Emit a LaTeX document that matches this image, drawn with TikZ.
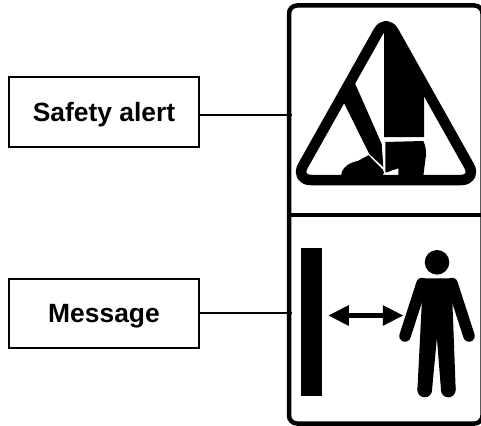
\documentclass[tikz,border=0pt]{standalone}
\usepackage{fontspec}
\setmainfont{Liberation Sans}
\usetikzlibrary{arrows.meta,positioning}

\begin{document}
\begin{tikzpicture}[
  x=1pt, y=-1pt,
  font=\fontsize{26.4}{30}\selectfont\bfseries,
  >={Triangle[length=20.5pt,width=19.5pt]},
  labelbox/.style={draw, line width=2pt, minimum width=190pt, minimum height=69pt, inner sep=0pt, text height=19pt, text depth=0pt},
  link/.style={line width=2.2pt},
  frame/.style={line width=4.5pt, rounded corners=8pt},
  limb/.style={line width=11.5pt, line cap=round}
]
\useasboundingbox (0,0) rectangle (481,425);
\clip (0,0) rectangle (481,425);
\node[labelbox] (alert) at (104,112) {Safety alert};
\node[labelbox, below=130pt of alert] (msg) {Message};
\coordinate (alertend) at (291.5,115.3);
\coordinate (msgend) at (291.5,313.2);
\draw[link] (alert.east |- alertend) -- (alertend);
\draw[link] (msg.east |- msgend) -- (msgend);
% panel
\draw[frame] (289,5.5) rectangle (482.5,423.5);
\draw[line width=4.5pt] (289,215) -- (481,215);
% triangle
\draw[line width=10.5pt, line join=round, rounded corners=16pt] (386,18) -- (477,180) -- (295,180) -- cycle;
\fill (384,28) -- (394,28) -- (424,90) -- (424,137) -- (384,137) -- cycle;
\fill (355,83.3) -- (381.7,144) -- (383.3,167) -- (369.3,154) -- (367.3,150) -- (343.3,101.7) -- (346.7,83) -- cycle;
\fill (385.3,142) -- (423.3,141) .. controls (426,146) and (426,152) .. (426,155) -- (423.3,176) -- (398.3,176) -- (398.3,168.3) -- (385.5,172.7) -- cycle;
\fill (341,176) .. controls (341,170) and (346,165) .. (351.7,162.7) -- (358.3,160.7) -- (368.5,155.2) -- (383,170) -- (384,173) -- (381.7,176) -- cycle;
% person
\fill (437,262.3) circle (12.3pt);
\fill[rounded corners=3pt] (419,278.3) -- (455.5,278.3) -- (459,300) -- (416,300) -- cycle;
\fill (420.5,290) -- (453.5,290) -- (452.5,305) -- (455.7,390) -- (441,390) -- (436.9,338) -- (432,390) -- (417.4,390) -- (421.7,305) -- cycle;
\fill (424.7,390) circle (7.35pt);
\fill (448.3,390) circle (7.35pt);
\draw[limb] (422,283.5) -- (405,336);
\draw[limb] (452,283.5) -- (469,336);
% wall and gap
\fill (301,248) rectangle (322,395.7);
\coordinate (wallside) at (328.3,315.5);
\coordinate (manside) at (403.3,315.5);
\draw[<->, line width=4.3pt] (wallside) -- (manside);
\end{tikzpicture}
\end{document}
